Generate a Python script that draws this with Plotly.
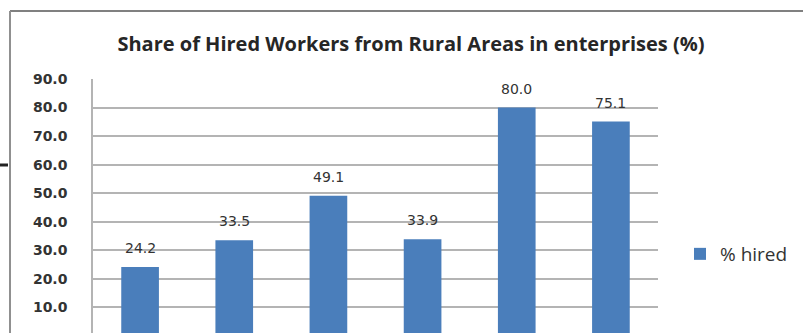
import plotly.graph_objects as go

categories = ["A", "B", "C", "D", "E", "F"]
hired = [24.2, 33.5, 49.1, 33.9, 80.0, 75.1]
tick_vals = [0, 10, 20, 30, 40, 50, 60, 70, 80, 90]
tick_text = ["0.0", "10.0", "20.0", "30.0", "40.0", "50.0", "60.0", "70.0", "80.0", "90.0"]

W, H = 803, 333
L, R, T, B = 93, 145, 79, 0
pw, ph = W - L - R, H - T - B

def px_x(px):
    return (px - L) / pw

def px_y(py):
    return (H - py) / ph

fig = go.Figure()
fig.add_trace(go.Bar(
    x=categories, y=hired, name="% hired",
    marker=dict(color="#4A7EBB", line=dict(width=0)),
    width=0.4,
))

for c, v in zip(categories, hired):
    fig.add_annotation(x=c, y=v, text=f"{v:.1f}", showarrow=False,
                       yshift=19, font=dict(family="DejaVu Sans", size=14, color="#333333"))

# partially visible 0.0 tick label at the bottom edge
fig.add_annotation(xref="paper", yref="paper", x=px_x(72), y=px_y(338), xanchor="right",
                   yanchor="middle", text="0.0", showarrow=False,
                   font=dict(family="DejaVu Sans", size=14, color="#333333", weight="bold"))

fig.update_layout(
    width=W, height=H,
    margin=dict(l=L, r=R, t=T, b=B, pad=0),
    paper_bgcolor="white", plot_bgcolor="white",
    title=dict(text="<b>Share of Hired Workers from Rural Areas in enterprises (%)</b>",
               x=411 / W, xanchor="center", y=1 - 44 / H, yanchor="middle",
               font=dict(family="Open Sans", size=20, color="#262626")),
    showlegend=True,
    legend=dict(x=px_x(680), xanchor="left", y=px_y(254), yanchor="middle",
                font=dict(family="Open Sans", size=19, color="#333333"),
                bgcolor="rgba(0,0,0,0)"),
    bargap=0.6,
    shapes=[
        dict(type="line", xref="paper", yref="paper", x0=px_x(10), x1=px_x(810),
             y0=px_y(11), y1=px_y(11), line=dict(color="#808080", width=2)),
        dict(type="line", xref="paper", yref="paper", x0=px_x(10), x1=px_x(10),
             y0=px_y(11), y1=px_y(340), line=dict(color="#909090", width=2)),
        dict(type="line", xref="paper", yref="paper", x0=px_x(0), x1=px_x(8),
             y0=px_y(165), y1=px_y(165), line=dict(color="#222222", width=3)),
    ],
)
fig.update_xaxes(showticklabels=False, showgrid=False, zeroline=False, showline=False,
                 range=[-0.5, 5.5])
fig.update_yaxes(range=[1.05, 90], tickvals=tick_vals, ticktext=tick_text,
                 showgrid=True, gridcolor="#B4B4B4", gridwidth=1.5, zeroline=False,
                 showline=True, linecolor="#B4B4B4", linewidth=1.5,
                 ticklabelstandoff=21,
                 tickfont=dict(family="DejaVu Sans", size=14, color="#333333", weight="bold"))

fig.write_html("out.html")
